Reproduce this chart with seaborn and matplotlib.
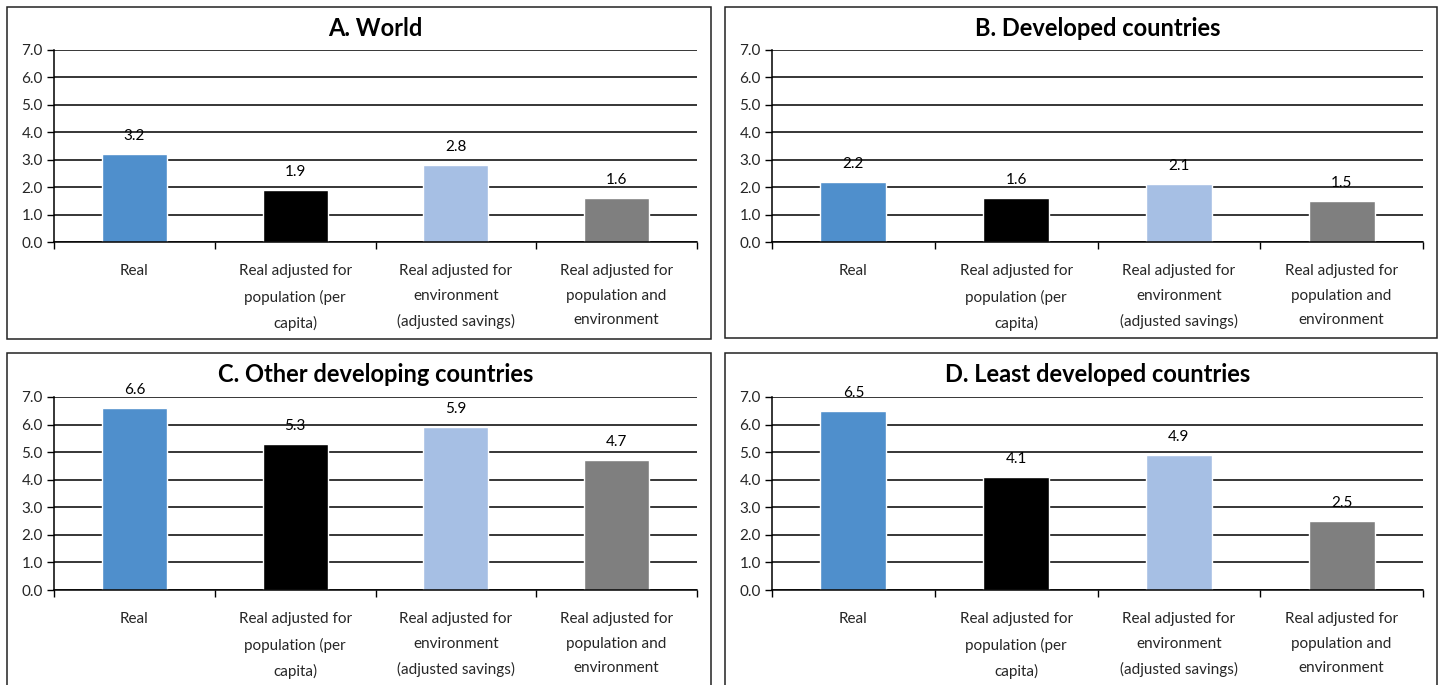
import matplotlib
matplotlib.use("Agg")
import matplotlib.pyplot as plt
import seaborn as sns
import pandas as pd
from matplotlib.patches import Rectangle
from matplotlib.ticker import FixedLocator

# Category labels (x axis) and panel titles
categories = [
    "Real",
    "Real adjusted for\npopulation (per\ncapita)",
    "Real adjusted for\nenvironment\n(adjusted savings)",
    "Real adjusted for\npopulation and\nenvironment",
]
panel_titles = [
    "A. World",
    "B. Developed countries",
    "C. Other developing countries",
    "D. Least developed countries",
]

# Growth rates per panel
world = [3.2, 1.9, 2.8, 1.6]
developed = [2.2, 1.6, 2.1, 1.5]
other_developing = [6.6, 5.3, 5.9, 4.7]
least_developed = [6.5, 4.1, 4.9, 2.5]

y_ticks = [0.0, 1.0, 2.0, 3.0, 4.0, 5.0, 6.0, 7.0]
bar_colors = ["#4F8FCC", "#000000", "#A6BFE4", "#7F7F7F"]

sns.set_theme(style="white")
plt.rcParams["font.family"] = ["Lato", "DejaVu Sans"]

W, H = 1440, 685
fig = plt.figure(figsize=(W / 100, H / 100), dpi=100)

# Pixel layout: (axes left, right, top, bottom), (box left, right, top, bottom)
layout = [
    ((54, 697, 50, 242), (7, 711, 7, 339)),
    ((772, 1423, 50, 242), (725, 1437, 7, 338)),
    ((54, 697, 397, 590), (7, 711, 353, 700)),
    ((772, 1423, 397, 590), (725, 1437, 353, 700)),
]
series = [world, developed, other_developing, least_developed]

for (ax_px, box_px), title, values in zip(layout, panel_titles, series):
    l, r, t, b = ax_px
    ax = fig.add_axes([l / W, 1 - b / H, (r - l) / W, (b - t) / H])

    df = pd.DataFrame({"category": categories, "value": values})
    sns.barplot(data=df, x="category", y="value", hue="category",
                palette=bar_colors, width=0.405, saturation=1,
                legend=False, ax=ax, zorder=3)

    ax.set_xlim(-0.5, 3.5)
    ax.set_ylim(0, 7)
    ax.set_yticks(y_ticks)
    ax.set_yticklabels([f"{v:.1f}" for v in y_ticks])
    ax.set_xlabel("")
    ax.set_ylabel("")

    ax.yaxis.grid(True, color="black", linewidth=1.1, zorder=0)
    ax.set_axisbelow(True)
    for s in ["top", "right"]:
        ax.spines[s].set_visible(False)
    for s in ["left", "bottom"]:
        ax.spines[s].set_color("black")
        ax.spines[s].set_linewidth(1.1)
        ax.spines[s].set_zorder(4)

    ax.tick_params(axis="y", which="major", direction="out", length=5,
                   width=1.0, color="black", labelsize=11, pad=3, left=True)
    ax.tick_params(axis="x", which="major", length=0, labelsize=11, pad=16)
    ax.xaxis.set_minor_locator(FixedLocator([-0.5, 0.5, 1.5, 2.5, 3.5]))
    ax.tick_params(axis="x", which="minor", direction="out", length=5,
                   width=1.0, color="black", bottom=True)
    for lab in ax.get_xticklabels():
        lab.set_linespacing(1.95)
        lab.set_verticalalignment("top")

    for i, v in enumerate(values):
        ax.annotate(f"{v:.1f}", xy=(i, v), xytext=(0, 13),
                    textcoords="offset points", ha="center", va="center",
                    fontsize=11, color="black", zorder=5)

    fig.text((l + r) / 2 / W, 1 - (t - 22) / H, title, ha="center",
             va="center", fontsize=17, fontweight="bold", color="black")

    bl, br, bt, bb = box_px
    fig.patches.append(Rectangle((bl / W, 1 - bb / H), (br - bl) / W,
                                 (bb - bt) / H, transform=fig.transFigure,
                                 fill=False, edgecolor="#222222",
                                 linewidth=1.1, zorder=10))

fig.savefig("out.png", dpi=100, facecolor="white")
